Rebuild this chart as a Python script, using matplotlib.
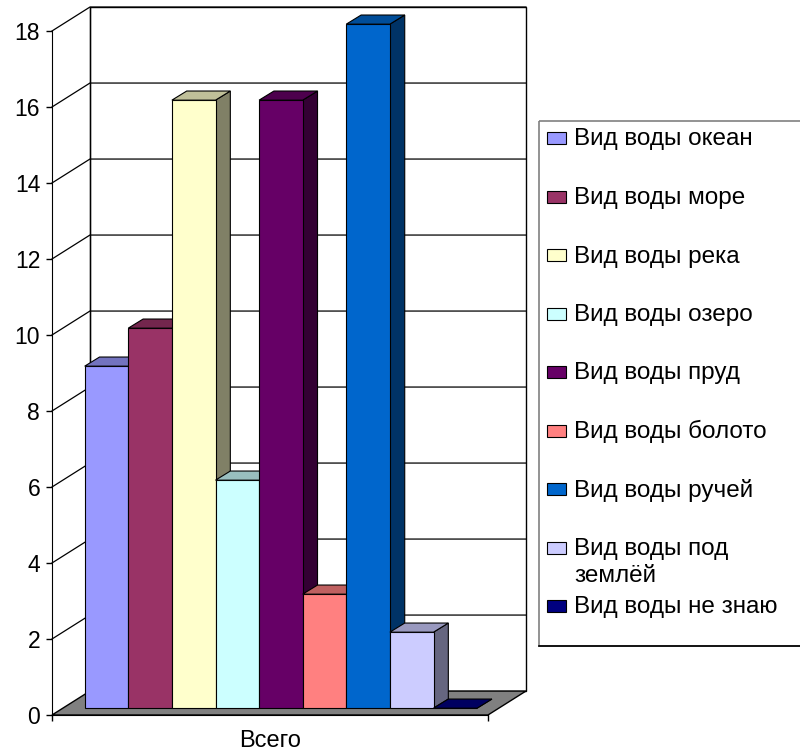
import matplotlib
matplotlib.use("Agg")
import matplotlib.pyplot as plt
import matplotlib.colors as mcolors
from matplotlib.patches import Polygon, Rectangle

plt.rcParams['font.family'] = ['Liberation Sans', 'DejaVu Sans']

# данные
categories = ["Всего"]
series = [
    "Вид воды океан",
    "Вид воды море",
    "Вид воды река",
    "Вид воды озеро",
    "Вид воды пруд",
    "Вид воды болото",
    "Вид воды ручей",
    "Вид воды под\nземлёй",
    "Вид воды не знаю",
]
values = [9, 10, 16, 6, 16, 3, 18, 2, 0]
colors = ["#9999FF", "#993366", "#FFFFCC", "#CCFFFF", "#660066",
          "#FF8080", "#0066CC", "#CCCCFF", "#000080"]
yticks = list(range(0, 20, 2))

# псевдо-3D смещения (в единицах данных)
WALL_DX, WALL_DY = 0.87, 0.63
BAR_DX0, BAR_DY0 = 0.25, 0.18
BAR_DX, BAR_DY = 0.34, 0.24


def shade(c, f):
    r, g, b = mcolors.to_rgb(c)
    return (r * f, g * f, b * f)


fig = plt.figure(figsize=(8, 7.52), dpi=100)
ax = fig.add_axes([0.065, 0.0492, 0.545, 0.9096])
n = len(values)
xmax = n + 1
ymax = yticks[-1]
ax.set_xlim(0, xmax)
ax.set_ylim(0, ymax)

# задняя стенка
ax.add_patch(Polygon([(WALL_DX, WALL_DY), (xmax + WALL_DX, WALL_DY),
                      (xmax + WALL_DX, ymax + WALL_DY), (WALL_DX, ymax + WALL_DY)],
                     closed=True, fc="white", ec="black", lw=1, clip_on=False, zorder=0.5))
for v in yticks[1:]:
    ax.plot([0, WALL_DX, xmax + WALL_DX], [v, v + WALL_DY, v + WALL_DY],
            color="black", lw=0.9, clip_on=False, zorder=0.6)
ax.plot([WALL_DX, WALL_DX], [WALL_DY, ymax + WALL_DY], color="black", lw=0.9,
        clip_on=False, zorder=0.6)

# пол
ax.add_patch(Polygon([(0, 0), (xmax, 0), (xmax + WALL_DX, WALL_DY), (WALL_DX, WALL_DY)],
                     closed=True, fc="#808080", ec="black", lw=1, clip_on=False, zorder=0.7))

# столбцы
for i, (v, c) in enumerate(zip(values, colors)):
    x0 = 0.5 + i + BAR_DX0
    x1 = x0 + 1
    y0 = BAR_DY0
    y1 = y0 + v
    side = [(x1, y0), (x1 + BAR_DX, y0 + BAR_DY), (x1 + BAR_DX, y1 + BAR_DY), (x1, y1)]
    front = [(x0, y0), (x1, y0), (x1, y1), (x0, y1)]
    top = [(x0, y1), (x1, y1), (x1 + BAR_DX, y1 + BAR_DY), (x0 + BAR_DX, y1 + BAR_DY)]
    for poly, f in ((side, 0.5), (front, 1.0), (top, 0.75)):
        ax.add_patch(Polygon(poly, closed=True, fc=shade(c, f), ec="black",
                             lw=0.8, clip_on=False, zorder=1 + i * 0.01))

# оси
ax.spines["top"].set_visible(False)
ax.spines["right"].set_visible(False)
ax.set_facecolor("none")
ax.set_yticks(yticks)
ax.tick_params(axis="y", direction="out", length=4.5, width=1, labelsize=16.5, pad=4)
ax.set_xticks([0, xmax], minor=True)
ax.set_xticks([xmax / 2], labels=categories)
ax.tick_params(axis="x", which="major", length=0, labelsize=17, pad=11)
ax.tick_params(axis="x", which="minor", length=4.5, width=1)

# легенда
lw_px, lh_px = 280, 525
lax = fig.add_axes([539 / 800, 106 / 752, lw_px / 800, lh_px / 752])
lax.set_xlim(0, lw_px)
lax.set_ylim(lh_px, 0)
lax.axis("off")
lax.add_patch(Rectangle((0, 0), lw_px, lh_px, fill=False, ec="#808080", lw=1.2, clip_on=False))
lax.plot([0, lw_px], [lh_px, lh_px], color="black", lw=1.2, clip_on=False)
for i, (lab, c) in enumerate(zip(series, colors)):
    y = 17 + 58.5 * i
    lax.add_patch(Rectangle((8, y - 6), 19, 12, fc=c, ec="black", lw=0.8, clip_on=False))
    for j, line in enumerate(lab.split("\n")):
        lax.text(35, y + 7.5 + 27 * j, line, va="baseline", ha="left", fontsize=17.5)

fig.savefig("out.png", dpi=100)
